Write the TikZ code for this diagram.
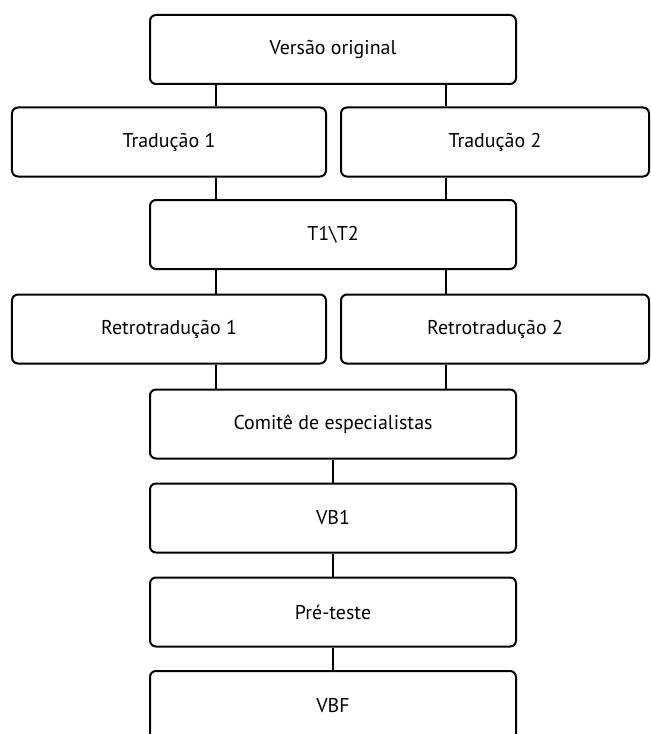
\documentclass[tikz,border=0pt]{standalone}
\usepackage{fontspec}
\setmainfont{PT Sans}
\begin{document}
\begin{tikzpicture}[x=1bp,y=-1bp,
  box/.style={draw=black, line width=2bp, rounded corners=6bp, fill=white,
    inner sep=0pt, font=\fontsize{20}{24}\selectfont},
  wide/.style={box, minimum width=366bp, minimum height=69bp},
  left/.style={box, minimum width=314bp, minimum height=69bp},
  right/.style={box, minimum width=308bp, minimum height=69bp},
  link/.style={draw=black, line width=2bp}]
\clip (0,0) rectangle (651,734);
\fill[white] (0,0) rectangle (651,734);
% rows: tops 15,107,200,294,389,483,577,671 ; height 69
\node[wide] (vo) at (333,49.5) {Versão original};
\node[left] (t1) at (169,142) {Tradução 1};
\node[right] (t2) at (495,142) {Tradução 2};
\node[wide] (t12) at (333,234.5) {T1\textbackslash T2};
\node[left] (r1) at (169,329) {Retrotradução 1};
\node[right] (r2) at (495,329) {Retrotradução 2};
\node[wide] (ce) at (333,424) {Comitê de especialistas};
\node[wide] (vb1) at (333,518) {VB1};
\node[wide] (pt) at (333,612) {Pré-teste};
\node[wide, minimum height=80bp] (vbf) at (333,711) {};
\node[font=\fontsize{20}{24}\selectfont] (vbft) at (333,705.5) {VBF};
% connectors
\draw[link] (vo.south -| 216,0) -- (t1.north -| 216,0);
\draw[link] (vo.south -| 446,0) -- (t2.north -| 446,0);
\draw[link] (t1.south -| 216,0) -- (t12.north -| 216,0);
\draw[link] (t2.south -| 446,0) -- (t12.north -| 446,0);
\draw[link] (t12.south -| 216,0) -- (r1.north -| 216,0);
\draw[link] (t12.south -| 446,0) -- (r2.north -| 446,0);
\draw[link] (r1.south -| 216,0) -- (ce.north -| 216,0);
\draw[link] (r2.south -| 446,0) -- (ce.north -| 446,0);
\draw[link] (ce) -- (vb1);
\draw[link] (vb1) -- (pt);
\draw[link] (pt) -- (vbf);
\end{tikzpicture}
\end{document}
